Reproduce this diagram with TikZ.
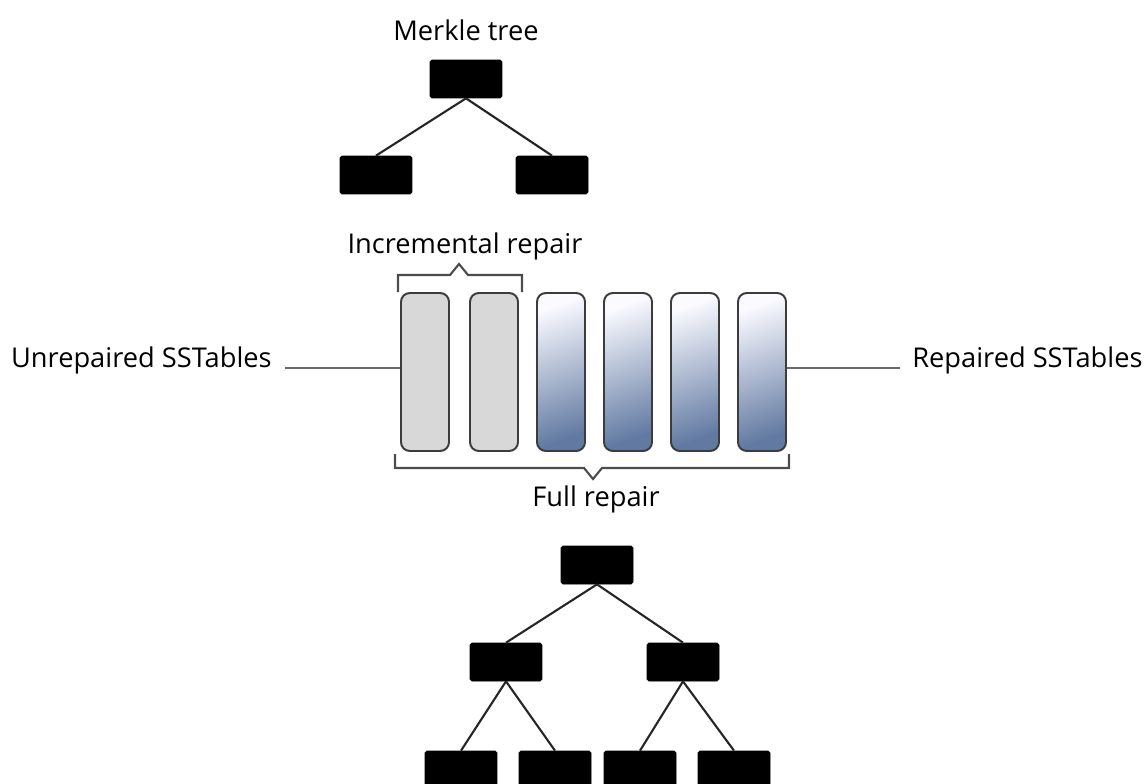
\documentclass[tikz,border=0pt]{standalone}
\usepackage{fontspec}
\setmainfont{Open Sans}
\usepackage{xcolor}
\usepackage{tikz}
\usetikzlibrary{positioning, calc}

\definecolor{tablegray}{RGB}{216,216,216}
\definecolor{tableblue}{RGB}{98,122,162}
\definecolor{tableedge}{RGB}{60,60,60}
\definecolor{leadgray}{RGB}{105,105,105}

\tikzset{
  hashbox/.style={fill=black, draw=black, rounded corners=1pt, minimum width=1.44cm, minimum height=0.76cm, inner sep=0pt},
  sstable/.style={draw=tableedge, line width=1.1pt, rounded corners=5pt, minimum width=0.96cm, minimum height=3.16cm, inner sep=0pt},
  unrepaired/.style={sstable, fill=tablegray},
  repaired/.style={sstable, top color=blue!2!white, bottom color=tableblue, shading angle=20},
  treeline/.style={line width=1.2pt, black!85},
  leadline/.style={line width=1.7pt, leadgray},
  bracket/.style={line width=1.2pt, black!70},
  lbl/.style={font=\fontsize{15.5}{18}\selectfont, inner sep=0pt}
}

\begin{document}
\begin{tikzpicture}[x=0.02cm, y=-0.02cm]
\clip (0,0) rectangle (1146,784);

% Merkle tree, top
\node[lbl] (mtitle) at (466,30) {Merkle tree};
\node[hashbox] (mroot) at (466,79) {};
\node[hashbox] (mleft) at (376,175) {};
\node[hashbox] (mright) at (552,175) {};
\draw[treeline] (mroot.south) -- (mleft.north);
\draw[treeline] (mroot.south) -- (mright.north);

% SSTables
\node[unrepaired] (t1) at (425,372) {};
\node[unrepaired] (t2) at (494,372) {};
\node[repaired] (t3) at (561,372) {};
\node[repaired] (t4) at (628,372) {};
\node[repaired] (t5) at (695,372) {};
\node[repaired] (t6) at (762,372) {};

% Side labels
\node[lbl, anchor=east] (unrep) at (272,360) {Unrepaired SSTables};
\node[lbl, anchor=west] (rep) at (912,360) {Repaired SSTables};
\coordinate (ulead) at (285,368);
\coordinate (rlead) at (900,368);
\draw[leadline] (ulead) -- (ulead -| t1.west);
\draw[leadline] (t6.east |- rlead) -- (rlead);

% Incremental repair bracket
\node[lbl] (incr) at (465,246) {Incremental repair};
\draw[bracket] (398,292) -- (398,275) -- (450,275) -- (459,264) -- (468,275) -- (522,275) -- (522,292);

% Full repair bracket
\draw[bracket] (395,454) -- (395,468) -- (584,468) -- (593,479) -- (602,468) -- (789,468) -- (789,454);
\node[lbl] (full) at (596,499) {Full repair};

% Merkle tree, bottom
\node[hashbox] (root) at (597,565) {};
\node[hashbox] (nl) at (506,662) {};
\node[hashbox] (nr) at (683,662) {};
\node[hashbox] (l1) at (461,770) {};
\node[hashbox] (l2) at (555,770) {};
\node[hashbox] (l3) at (640,770) {};
\node[hashbox] (l4) at (734,770) {};
\draw[treeline] (root.south) -- (nl.north);
\draw[treeline] (root.south) -- (nr.north);
\draw[treeline] (nl.south) -- (l1.north);
\draw[treeline] (nl.south) -- (l2.north);
\draw[treeline] (nr.south) -- (l3.north);
\draw[treeline] (nr.south) -- (l4.north);
\end{tikzpicture}
\end{document}
